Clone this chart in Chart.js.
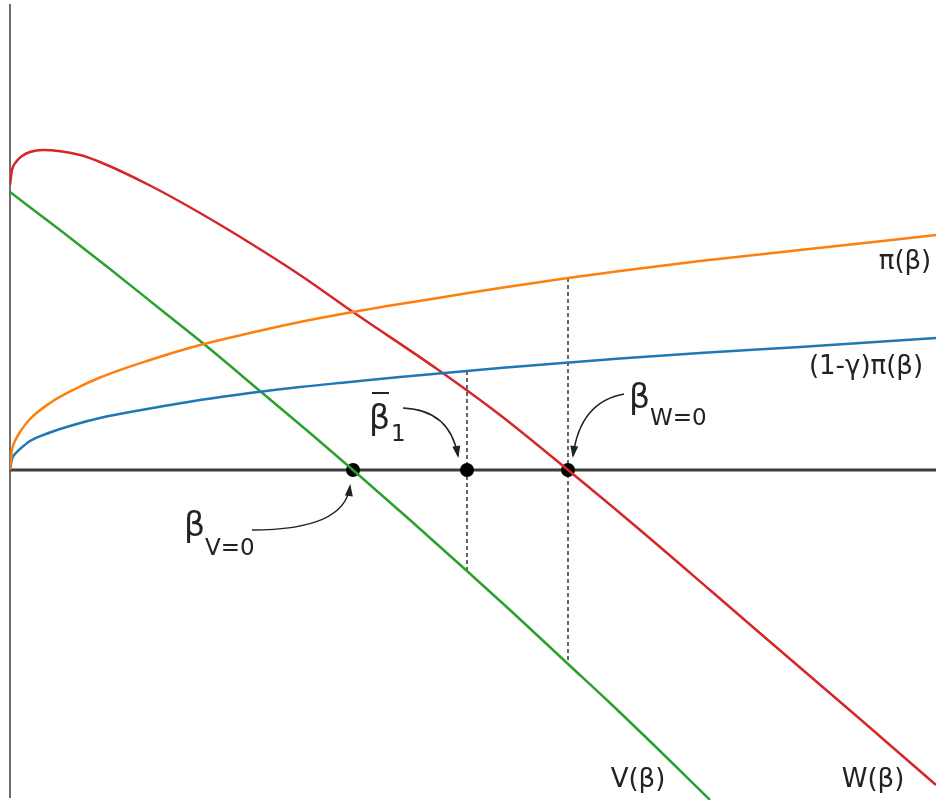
<!DOCTYPE html>
<html>
<head>
<meta charset="utf-8">
<script src="https://cdn.jsdelivr.net/npm/chart.js@4.4.1/dist/chart.umd.min.js"></script>
<style>
  html, body { margin: 0; padding: 0; background: #fff; }
  #wrap { width: 936px; height: 800px; position: relative; }
</style>
</head>
<body>
<div id="wrap"><canvas id="chart"></canvas></div>
<script>
// values (axis units, no ticks are shown)
const piX = [0, 0.02, 0.05, 0.1, 0.2, 0.4, 0.65, 0.9, 1.4, 1.9, 2.4, 2.9, 3.4, 3.9, 4.4, 4.9, 5.58, 6.1, 6.9, 7.9, 9.26];
const piY = [0, 0.20, 0.29, 0.38, 0.51, 0.67, 0.81, 0.925, 1.10, 1.25, 1.37, 1.48, 1.575, 1.66, 1.74, 1.82, 1.92, 1.99, 2.09, 2.20, 2.35];
const piNetY = [0, 0.11, 0.16, 0.21, 0.29, 0.375, 0.455, 0.52, 0.615, 0.70, 0.77, 0.83, 0.88, 0.93, 0.975, 1.02, 1.075, 1.115, 1.17, 1.23, 1.32];

const vX = [0, 0.5, 1.0, 1.5, 2.0, 2.5, 3.0, 3.43, 4.0, 4.57, 5.0, 5.58, 6.0, 6.5, 7.0];
const vY = [2.78, 2.40, 2.01, 1.61, 1.21, 0.79, 0.37, 0, -0.50, -1.01, -1.40, -1.94, -2.33, -2.81, -3.30];

const wX = [0, 0.02, 0.06, 0.12, 0.2, 0.33, 0.7, 0.9, 1.4, 1.9, 2.4, 2.9, 3.43, 4.27, 4.9, 5.58, 6.2, 7.0, 7.55, 8.5, 9.26];
const wY = [2.85, 3.00, 3.08, 3.14, 3.18, 3.20, 3.15, 3.08, 2.845, 2.57, 2.27, 1.95, 1.58, 1.01, 0.55, 0, -0.515, -1.20, -1.675, -2.49, -3.15];

// marked points on the axis: β_V=0, β̄1, β_W=0
const markX = [3.43, 4.57, 5.58];
// dashed guides
const dashX = [4.57, 5.58];
const dashTop = [0.99, 1.92];
const dashBottom = [-1.01, -1.94];

const xy = (xs, ys) => xs.map((x, i) => ({ x: x, y: ys[i] }));

function curve(label, data, color) {
  return {
    label: label,
    data: data,
    borderColor: color,
    borderWidth: 2.5,
    pointRadius: 0,
    cubicInterpolationMode: 'monotone',
    fill: false,
  };
}

const datasets = [
  curve('π(β)', xy(piX, piY), '#ff7f0e'),
  curve('(1-γ)π(β)', xy(piX, piNetY), '#1f77b4'),
  curve('V(β)', xy(vX, vY), '#2ca02c'),
  curve('W(β)', xy(wX, wY), '#d62728'),
];
dashX.forEach((x, i) => {
  datasets.push({
    label: 'guide' + i,
    data: [{ x: x, y: dashTop[i] }, { x: x, y: dashBottom[i] }],
    borderColor: '#000',
    borderWidth: 1.2,
    borderDash: [4, 3],
    pointRadius: 0,
  });
});
datasets.push({
  label: 'marks',
  data: markX.map((x) => ({ x: x, y: 0 })),
  showLine: false,
  pointRadius: 7,
  pointBackgroundColor: '#000',
  pointBorderWidth: 0,
});

// axis lines through the origin
const axesPlugin = {
  id: 'axes',
  beforeDatasetsDraw(chart) {
    const { ctx, scales } = chart;
    const x0 = scales.x.getPixelForValue(0);
    const y0 = scales.y.getPixelForValue(0);
    ctx.save();
    ctx.strokeStyle = '#6e6e6e';
    ctx.lineWidth = 2;
    ctx.beginPath();
    ctx.moveTo(x0, 4);
    ctx.lineTo(x0, chart.height - 2);
    ctx.stroke();
    ctx.strokeStyle = '#3c3c3c';
    ctx.lineWidth = 3;
    ctx.beginPath();
    ctx.moveTo(x0, y0);
    ctx.lineTo(chart.width, y0);
    ctx.stroke();
    ctx.restore();
  },
};

function arrow(ctx, x0, y0, cx, cy, x1, y1) {
  ctx.beginPath();
  ctx.moveTo(x0, y0);
  ctx.quadraticCurveTo(cx, cy, x1, y1);
  ctx.stroke();
  const a = Math.atan2(y1 - cy, x1 - cx);
  const len = 10, half = 4;
  ctx.beginPath();
  ctx.moveTo(x1 + Math.cos(a) * 2, y1 + Math.sin(a) * 2);
  ctx.lineTo(x1 - Math.cos(a) * len - Math.sin(a) * half, y1 - Math.sin(a) * len + Math.cos(a) * half);
  ctx.lineTo(x1 - Math.cos(a) * len + Math.sin(a) * half, y1 - Math.sin(a) * len - Math.cos(a) * half);
  ctx.closePath();
  ctx.fill();
}

const labelsPlugin = {
  id: 'labels',
  afterDatasetsDraw(chart) {
    const { ctx, scales } = chart;
    const px = (x) => scales.x.getPixelForValue(x);
    const y0 = scales.y.getPixelForValue(0);
    ctx.save();
    ctx.fillStyle = '#222';
    ctx.font = '26px "DejaVu Sans"';
    ctx.textAlign = 'center';
    ctx.textBaseline = 'middle';
    ctx.fillText('π(β)', 905, 262);
    ctx.fillText('(1-γ)π(β)', 866, 367);
    ctx.fillText('V(β)', 638, 780);
    ctx.fillText('W(β)', 873, 780);

    ctx.textAlign = 'left';
    ctx.textBaseline = 'alphabetic';
    const big = '33px "DejaVu Sans"';
    const small = '23px "DejaVu Sans"';
    // β_V=0
    ctx.font = big; ctx.fillText('β', 184, 536);
    ctx.font = small; ctx.fillText('V=0', 205, 555);
    // β̄_1
    ctx.font = big; ctx.fillText('β', 369, 429);
    ctx.font = small; ctx.fillText('1', 391, 441);
    ctx.fillRect(372, 392, 17, 2);
    // β_W=0
    ctx.font = big; ctx.fillText('β', 629, 408);
    ctx.font = small; ctx.fillText('W=0', 650, 425);

    ctx.strokeStyle = '#222';
    ctx.lineWidth = 1.5;
    const mV = px(markX[0]), m1 = px(markX[1]), mW = px(markX[2]);
    arrow(ctx, 252, 530, mV - 8, 530, mV - 3, y0 + 16);
    arrow(ctx, 403, 408, m1 - 17, 410, m1 - 9, y0 - 14);
    arrow(ctx, 624, 394, mW + 12, 402, mW + 5, y0 - 14);
    ctx.restore();
  },
};

new Chart(document.getElementById('chart'), {
  type: 'line',
  data: { datasets: datasets },
  options: {
    responsive: true,
    maintainAspectRatio: false,
    animation: false,
    layout: { autoPadding: false, padding: { left: 10, right: 0, top: 0, bottom: 0 } },
    plugins: { legend: { display: false }, tooltip: { enabled: false } },
    scales: {
      x: { type: 'linear', min: 0, max: 9.26, display: false },
      y: { type: 'linear', min: -3.3, max: 4.7, display: false },
    },
  },
  plugins: [axesPlugin, labelsPlugin],
});
</script>
</body>
</html>
